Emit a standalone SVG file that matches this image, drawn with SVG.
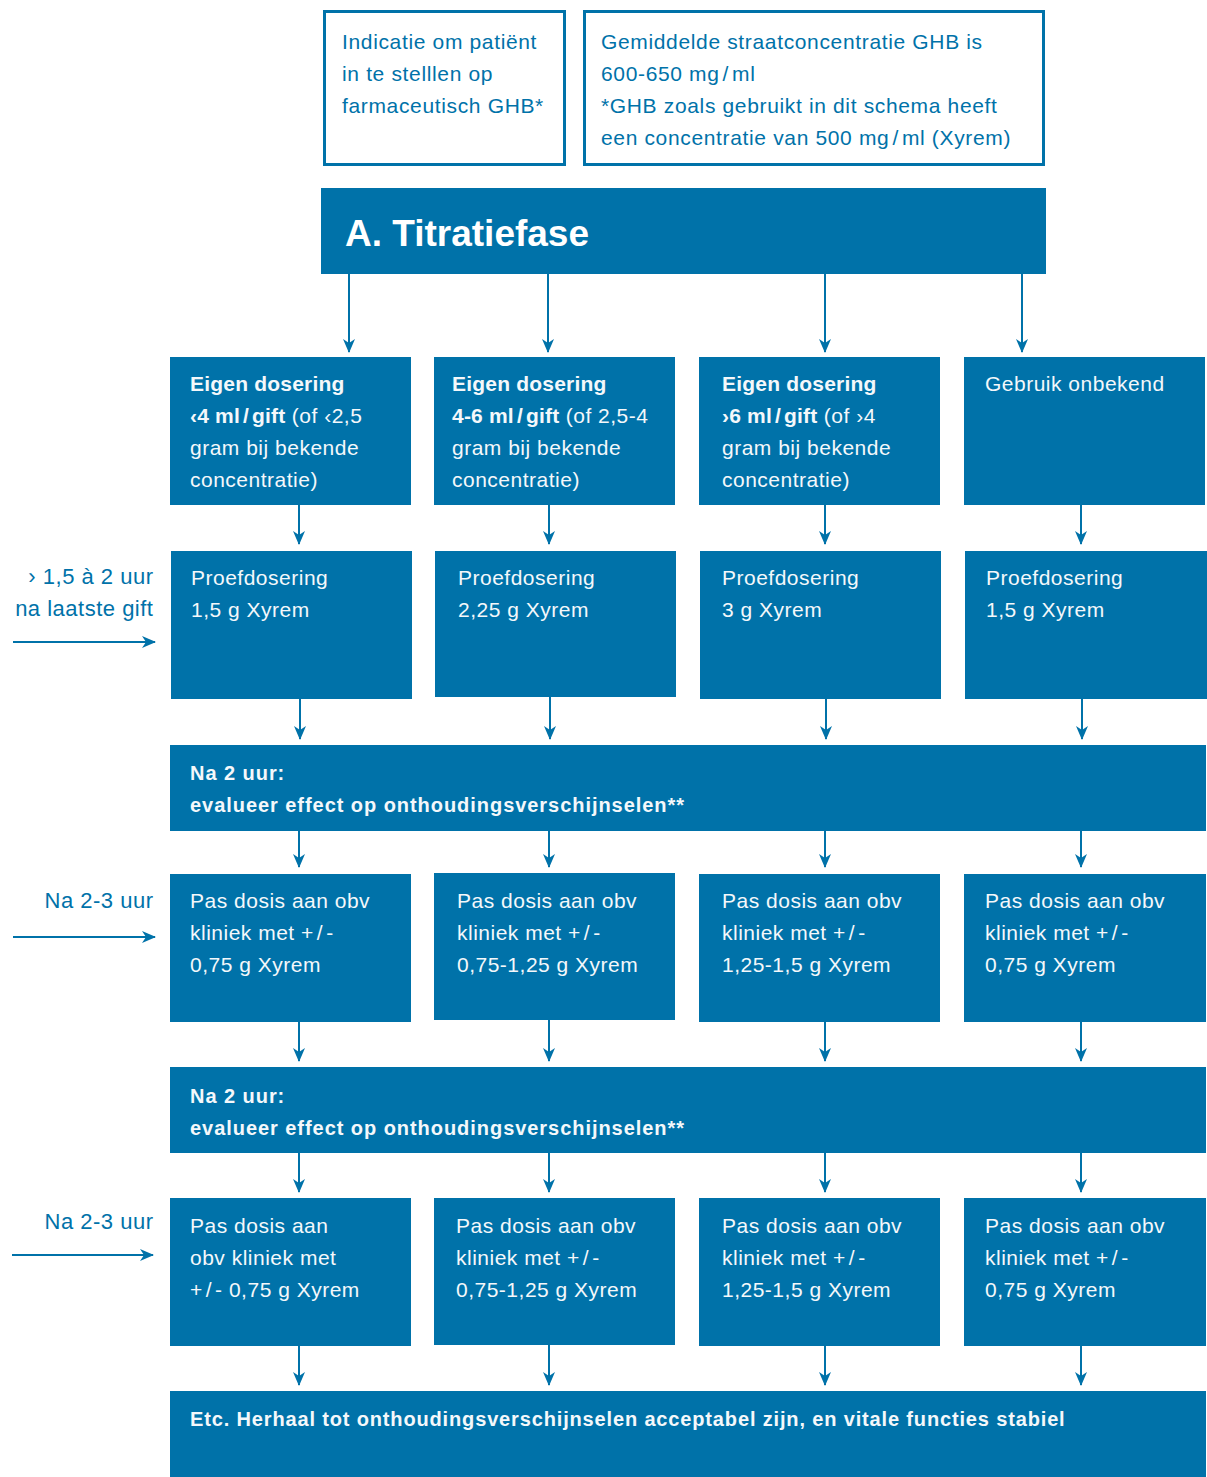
<svg xmlns="http://www.w3.org/2000/svg" width="1207" height="1477" viewBox="0 0 1207 1477">
<defs>
<marker id="ah" markerUnits="userSpaceOnUse" viewBox="0 0 14 12" refX="13" refY="6" markerWidth="14" markerHeight="12" orient="auto">
<path d="M0,0 L14,6 L0,12 L4,6 z" fill="#0072a9"/>
</marker>
<style>
.box{fill:#0072a9}
.obox{fill:#fff;stroke:#0072a9;stroke-width:3}
.t{font-family:"Liberation Sans",Arial,sans-serif;font-size:21px;fill:#f4f8fb;letter-spacing:0.5px}
.b{font-weight:bold;letter-spacing:0.2px}
.bar{font-family:"Liberation Sans",Arial,sans-serif;font-size:20px;font-weight:bold;fill:#f4f8fb;letter-spacing:0.95px}
.ot{font-family:"Liberation Sans",Arial,sans-serif;font-size:21px;fill:#0072a9;letter-spacing:0.65px}
.lab{font-family:"Liberation Sans",Arial,sans-serif;font-size:22px;fill:#0072a9;text-anchor:end;letter-spacing:0.5px}
.title{font-family:"Liberation Sans",Arial,sans-serif;font-size:37px;font-weight:bold;fill:#fff}
.c{stroke:#0072a9;stroke-width:2;fill:none;marker-end:url(#ah)}
</style>
</defs>
<rect width="1207" height="1477" fill="#fff"/>

<g id="info1">
<rect class="obox" x="324.5" y="11.5" width="240" height="153"/>
<text class="ot" x="342" y="49">Indicatie om patiënt</text>
<text class="ot" x="342" y="81">in te stelllen op</text>
<text class="ot" x="342" y="113">farmaceutisch GHB*</text>
</g>
<g id="info2">
<rect class="obox" x="584.5" y="11.5" width="459" height="153"/>
<text class="ot" x="601" y="49">Gemiddelde straatconcentratie GHB is</text>
<text class="ot" x="601" y="81">600-650 mg<tspan dx="3">/</tspan><tspan dx="3">ml</tspan></text>
<text class="ot" x="601" y="113">*GHB zoals gebruikt in dit schema heeft</text>
<text class="ot" x="601" y="145">een concentratie van 500 mg<tspan dx="3">/</tspan><tspan dx="3">ml (Xyrem)</tspan></text>
</g>

<g id="title">
<rect class="box" x="321" y="188" width="725" height="86"/>
<text class="title" x="345" y="246">A. Titratiefase</text>
</g>

<g id="r1a">
<rect class="box" x="170" y="357" width="241" height="148"/>
<text class="t b" x="190" y="391">Eigen dosering</text>
<text class="t" x="190" y="423"><tspan class="b">‹4 ml<tspan dx="3">/</tspan><tspan dx="3">gift</tspan></tspan> (of ‹2,5</text>
<text class="t" x="190" y="455">gram bij bekende</text>
<text class="t" x="190" y="487">concentratie)</text>
</g>
<g id="r1b">
<rect class="box" x="434" y="357" width="241" height="148"/>
<text class="t b" x="452" y="391">Eigen dosering</text>
<text class="t" x="452" y="423"><tspan class="b">4-6 ml<tspan dx="3">/</tspan><tspan dx="3">gift</tspan></tspan> (of 2,5-4</text>
<text class="t" x="452" y="455">gram bij bekende</text>
<text class="t" x="452" y="487">concentratie)</text>
</g>
<g id="r1c">
<rect class="box" x="699" y="357" width="241" height="148"/>
<text class="t b" x="722" y="391">Eigen dosering</text>
<text class="t" x="722" y="423"><tspan class="b">›6 ml<tspan dx="3">/</tspan><tspan dx="3">gift</tspan></tspan> (of ›4</text>
<text class="t" x="722" y="455">gram bij bekende</text>
<text class="t" x="722" y="487">concentratie)</text>
</g>
<g id="r1d">
<rect class="box" x="964" y="357" width="241" height="148"/>
<text class="t" x="985" y="391">Gebruik onbekend</text>
</g>

<g id="r2a">
<rect class="box" x="171" y="551" width="241" height="148"/>
<text class="t" x="191" y="585">Proefdosering</text>
<text class="t" x="191" y="617">1,5 g Xyrem</text>
</g>
<g id="r2b">
<rect class="box" x="435" y="551" width="241" height="146"/>
<text class="t" x="458" y="585">Proefdosering</text>
<text class="t" x="458" y="617">2,25 g Xyrem</text>
</g>
<g id="r2c">
<rect class="box" x="700" y="551" width="241" height="148"/>
<text class="t" x="722" y="585">Proefdosering</text>
<text class="t" x="722" y="617">3 g Xyrem</text>
</g>
<g id="r2d">
<rect class="box" x="965" y="551" width="242" height="148"/>
<text class="t" x="986" y="585">Proefdosering</text>
<text class="t" x="986" y="617">1,5 g Xyrem</text>
</g>

<g id="r3">
<rect class="box" x="170" y="745" width="1036" height="86"/>
<text class="bar" x="190" y="780">Na 2 uur:</text>
<text class="bar" x="190" y="812">evalueer effect op onthoudingsverschijnselen**</text>
</g>

<g id="r4a">
<rect class="box" x="170" y="874" width="241" height="148"/>
<text class="t" x="190" y="908">Pas dosis aan obv</text>
<text class="t" x="190" y="940">kliniek met +<tspan dx="3">/</tspan><tspan dx="3">-</tspan></text>
<text class="t" x="190" y="972">0,75 g Xyrem</text>
</g>
<g id="r4b">
<rect class="box" x="434" y="873" width="241" height="147"/>
<text class="t" x="457" y="908">Pas dosis aan obv</text>
<text class="t" x="457" y="940">kliniek met +<tspan dx="3">/</tspan><tspan dx="3">-</tspan></text>
<text class="t" x="457" y="972">0,75-1,25 g Xyrem</text>
</g>
<g id="r4c">
<rect class="box" x="699" y="874" width="241" height="148"/>
<text class="t" x="722" y="908">Pas dosis aan obv</text>
<text class="t" x="722" y="940">kliniek met +<tspan dx="3">/</tspan><tspan dx="3">-</tspan></text>
<text class="t" x="722" y="972">1,25-1,5 g Xyrem</text>
</g>
<g id="r4d">
<rect class="box" x="964" y="874" width="242" height="148"/>
<text class="t" x="985" y="908">Pas dosis aan obv</text>
<text class="t" x="985" y="940">kliniek met +<tspan dx="3">/</tspan><tspan dx="3">-</tspan></text>
<text class="t" x="985" y="972">0,75 g Xyrem</text>
</g>

<g id="r5">
<rect class="box" x="170" y="1067" width="1036" height="86"/>
<text class="bar" x="190" y="1103">Na 2 uur:</text>
<text class="bar" x="190" y="1135">evalueer effect op onthoudingsverschijnselen**</text>
</g>

<g id="r6a">
<rect class="box" x="170" y="1198" width="241" height="148"/>
<text class="t" x="190" y="1233">Pas dosis aan</text>
<text class="t" x="190" y="1265">obv kliniek met</text>
<text class="t" x="190" y="1297">+<tspan dx="3">/</tspan><tspan dx="3">- 0,75 g Xyrem</tspan></text>
</g>
<g id="r6b">
<rect class="box" x="434" y="1198" width="241" height="147"/>
<text class="t" x="456" y="1233">Pas dosis aan obv</text>
<text class="t" x="456" y="1265">kliniek met +<tspan dx="3">/</tspan><tspan dx="3">-</tspan></text>
<text class="t" x="456" y="1297">0,75-1,25 g Xyrem</text>
</g>
<g id="r6c">
<rect class="box" x="699" y="1198" width="241" height="148"/>
<text class="t" x="722" y="1233">Pas dosis aan obv</text>
<text class="t" x="722" y="1265">kliniek met +<tspan dx="3">/</tspan><tspan dx="3">-</tspan></text>
<text class="t" x="722" y="1297">1,25-1,5 g Xyrem</text>
</g>
<g id="r6d">
<rect class="box" x="964" y="1198" width="242" height="148"/>
<text class="t" x="985" y="1233">Pas dosis aan obv</text>
<text class="t" x="985" y="1265">kliniek met +<tspan dx="3">/</tspan><tspan dx="3">-</tspan></text>
<text class="t" x="985" y="1297">0,75 g Xyrem</text>
</g>

<g id="r7">
<rect class="box" x="170" y="1391" width="1036" height="86"/>
<text class="bar" x="190" y="1426" style="letter-spacing:0.85px">Etc. Herhaal tot onthoudingsverschijnselen acceptabel zijn, en vitale functies stabiel</text>
</g>

<g id="labels">
<text class="lab" x="153.5" y="584">› 1,5 à 2 uur</text>
<text class="lab" x="153.5" y="616">na laatste gift</text>
<text class="lab" x="153.5" y="908">Na 2-3 uur</text>
<text class="lab" x="153.5" y="1229">Na 2-3 uur</text>
</g>

<g id="connectors">
<line class="c" x1="349" y1="274" x2="349" y2="352"/>
<line class="c" x1="548" y1="274" x2="548" y2="352"/>
<line class="c" x1="825" y1="274" x2="825" y2="352"/>
<line class="c" x1="1022" y1="274" x2="1022" y2="352"/>

<line class="c" x1="299" y1="505" x2="299" y2="544"/>
<line class="c" x1="549" y1="505" x2="549" y2="544"/>
<line class="c" x1="825" y1="505" x2="825" y2="544"/>
<line class="c" x1="1081" y1="505" x2="1081" y2="544"/>

<line class="c" x1="300" y1="699" x2="300" y2="739"/>
<line class="c" x1="550" y1="697" x2="550" y2="739"/>
<line class="c" x1="826" y1="699" x2="826" y2="739"/>
<line class="c" x1="1082" y1="699" x2="1082" y2="739"/>

<line class="c" x1="299" y1="831" x2="299" y2="867"/>
<line class="c" x1="549" y1="831" x2="549" y2="867"/>
<line class="c" x1="825" y1="831" x2="825" y2="867"/>
<line class="c" x1="1081" y1="831" x2="1081" y2="867"/>

<line class="c" x1="299" y1="1022" x2="299" y2="1061"/>
<line class="c" x1="549" y1="1020" x2="549" y2="1061"/>
<line class="c" x1="825" y1="1022" x2="825" y2="1061"/>
<line class="c" x1="1081" y1="1022" x2="1081" y2="1061"/>

<line class="c" x1="299" y1="1153" x2="299" y2="1192"/>
<line class="c" x1="549" y1="1153" x2="549" y2="1192"/>
<line class="c" x1="825" y1="1153" x2="825" y2="1192"/>
<line class="c" x1="1081" y1="1153" x2="1081" y2="1192"/>

<line class="c" x1="299" y1="1346" x2="299" y2="1385"/>
<line class="c" x1="549" y1="1345" x2="549" y2="1385"/>
<line class="c" x1="825" y1="1346" x2="825" y2="1385"/>
<line class="c" x1="1081" y1="1346" x2="1081" y2="1385"/>

<line class="c" x1="13" y1="642" x2="155" y2="642"/>
<line class="c" x1="13" y1="937" x2="155" y2="937"/>
<line class="c" x1="12" y1="1255" x2="153" y2="1255"/>
</g>
</svg>
